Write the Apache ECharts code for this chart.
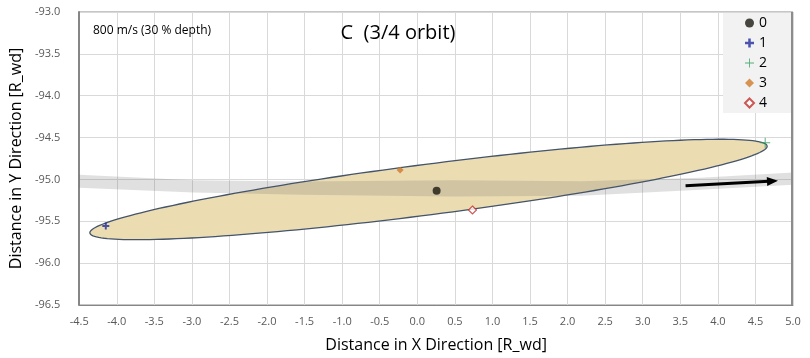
<!DOCTYPE html>
<html>
<head>
<meta charset="utf-8">
<script src="https://cdn.jsdelivr.net/npm/echarts@6/dist/echarts.min.js"></script>
<style>html,body{margin:0;padding:0;background:#fff}#c{width:810px;height:358px}</style>
</head>
<body>
<div id="c"></div>
<script>
// ---- data ----
const seriesNames = ['0', '1', '2', '3', '4'];
const pointX = [0.257, -4.146, 4.63, -0.229, 0.734];
const pointY = [-95.135, -95.556, -94.561, -94.887, -95.365];

// ellipse: centre and two conjugate semi-axis vectors (data units)
const ellipseCenter = [0.149, -95.120];
const ellipseMajor = [4.507, 0.5197];
const ellipseMinor = [0.0425, -0.2998];

// grey band (x, upper y, lower y)
const bandX = [-4.5, -2.98, -1.52, 0.46, 2.18, 3.77, 5.0];
const bandUpper = [-94.945, -95.011, -95.025, -95.011, -95.023, -94.981, -94.918];
const bandLower = [-95.100, -95.156, -95.184, -95.204, -95.196, -95.124, -95.065];

// arrow
const arrowStart = [3.57, -95.076];
const arrowEnd = [4.80, -95.017];

const xTicks = { min: -4.5, max: 5.0, step: 0.5 };
const yTicks = { min: -96.5, max: -93.0, step: 0.5 };

const chartTitle = 'C  (3/4 orbit)';
const chartNote = '800 m/s (30 % depth)';
const xName = 'Distance in X Direction [R_wd]';
const yName = 'Distance in Y Direction [R_wd]';

// ---- styles ----
const plusThick = 'path://M3.6,0H6.4V3.6H10V6.4H6.4V10H3.6V6.4H0V3.6H3.6Z';
const plusThin = 'path://M4.5,0H5.5V4.5H10V5.5H5.5V10H4.5V5.5H0V4.5H4.5Z';
const pointStyles = [
  { symbol: 'circle', size: 8, itemStyle: { color: '#1c1a10' } },
  { symbol: plusThick, size: 7, itemStyle: { color: '#1f2a9c' } },
  { symbol: plusThin, size: 10, itemStyle: { color: '#2e9e5b' } },
  { symbol: 'diamond', size: 7, itemStyle: { color: '#d07a2c' } },
  { symbol: 'diamond', size: 8, itemStyle: { color: '#ffffff', borderColor: '#c0302a', borderWidth: 1.2 } }
];

const tickFont = "'Liberation Sans Narrow', 'Open Sans', sans-serif";
const textFont = "'Open Sans', 'Noto Sans', sans-serif";

function ellipsePoints(api) {
  const pts = [];
  const n = 200;
  for (let i = 0; i <= n; i++) {
    const t = i / n * 2 * Math.PI;
    const c = Math.cos(t), s = Math.sin(t);
    pts.push(api.coord([
      ellipseCenter[0] + ellipseMajor[0] * c + ellipseMinor[0] * s,
      ellipseCenter[1] + ellipseMajor[1] * c + ellipseMinor[1] * s
    ]));
  }
  return pts;
}

const series = [];
// ellipse fill
series.push({
  type: 'custom', name: 'ellipseFill', z: 1, silent: true,
  data: [ellipseCenter],
  renderItem: function (params, api) {
    return { type: 'polygon', shape: { points: ellipsePoints(api) },
      style: { fill: '#ebdcb2', stroke: 'none' } };
  }
});
// band
series.push({
  type: 'custom', name: 'band', z: 2, silent: true, clip: true,
  data: [[bandX[0], bandUpper[0]]],
  renderItem: function (params, api) {
    const pts = [];
    for (let i = 0; i < bandX.length; i++) pts.push(api.coord([bandX[i], bandUpper[i]]));
    for (let i = bandX.length - 1; i >= 0; i--) pts.push(api.coord([bandX[i], bandLower[i]]));
    return { type: 'polygon', shape: { points: pts },
      style: { fill: 'rgba(100,100,100,0.2)', stroke: 'none' } };
  }
});
// ellipse outline
series.push({
  type: 'custom', name: 'ellipseLine', z: 3, silent: true,
  data: [ellipseCenter],
  renderItem: function (params, api) {
    return { type: 'polyline', shape: { points: ellipsePoints(api) },
      style: { fill: 'none', stroke: '#44546a', lineWidth: 1.3 } };
  }
});
// arrow
series.push({
  type: 'custom', name: 'arrow', z: 4, silent: true,
  data: [[arrowStart[0], arrowStart[1], arrowEnd[0], arrowEnd[1]]],
  renderItem: function (params, api) {
    const p0 = api.coord([api.value(0), api.value(1)]);
    const p1 = api.coord([api.value(2), api.value(3)]);
    const dx = p1[0] - p0[0], dy = p1[1] - p0[1];
    const L = Math.sqrt(dx * dx + dy * dy);
    const ux = dx / L, uy = dy / L, nx = -uy, ny = ux;
    const hl = 11, hw = 4.5;
    const base = [p1[0] - ux * hl, p1[1] - uy * hl];
    return { type: 'group', children: [
      { type: 'line', shape: { x1: p0[0], y1: p0[1], x2: base[0] + ux * 2, y2: base[1] + uy * 2 },
        style: { stroke: '#000', lineWidth: 3 } },
      { type: 'polygon', shape: { points: [p1, [base[0] + nx * hw, base[1] + ny * hw], [base[0] - nx * hw, base[1] - ny * hw]] },
        style: { fill: '#000' } }
    ] };
  }
});
// points
seriesNames.forEach(function (nm, i) {
  series.push({
    type: 'scatter', name: nm, z: 5,
    symbol: pointStyles[i].symbol, symbolSize: pointStyles[i].size,
    itemStyle: pointStyles[i].itemStyle,
    data: [[pointX[i], pointY[i]]]
  });
});

const chart = echarts.init(document.getElementById('c'));
chart.setOption({
  animation: false,
  backgroundColor: '#ffffff',
  grid: { left: 76, right: 17, top: 12, bottom: 53, show: true, borderColor: '#8c8c8c', borderWidth: 1 },
  xAxis: {
    type: 'value', min: xTicks.min, max: xTicks.max, interval: xTicks.step,
    name: xName, nameLocation: 'middle', nameGap: 32,
    nameTextStyle: { fontFamily: textFont, fontSize: 16, color: '#000' },
    axisLine: { show: true, onZero: false, lineStyle: { color: '#868686', width: 1 } },
    axisTick: { show: false },
    axisLabel: { formatter: function (v) { return v.toFixed(1); }, color: '#595959', fontSize: 11, fontFamily: tickFont, margin: 11 },
    splitLine: { show: true, lineStyle: { color: '#d9d9d9', width: 1 } }
  },
  yAxis: {
    type: 'value', min: yTicks.min, max: yTicks.max, interval: yTicks.step,
    name: yName, nameLocation: 'middle', nameGap: 52,
    nameTextStyle: { fontFamily: textFont, fontSize: 16, color: '#000' },
    axisLine: { show: true, onZero: false, lineStyle: { color: '#868686', width: 2 } },
    axisTick: { show: false },
    axisLabel: { formatter: function (v) { return v.toFixed(1); }, color: '#595959', fontSize: 11, fontFamily: tickFont, margin: 19 },
    splitLine: { show: true, lineStyle: { color: '#d9d9d9', width: 1 } }
  },
  legend: {
    data: seriesNames, orient: 'vertical', left: 723, top: 13,
    backgroundColor: '#f2f2f2', padding: [3, 24, 3, 21],
    itemWidth: 9, itemHeight: 9, itemGap: 6,
    textStyle: { fontFamily: textFont, fontSize: 14, lineHeight: 14, color: '#000' }
  },
  graphic: [
    { type: 'text', left: 93, top: 25, z: 10,
      style: { text: chartNote, font: '12px ' + textFont, fill: '#000' } },
    { type: 'text', x: 398, y: 33, z: 10,
      style: { text: chartTitle, font: '20px ' + textFont, fill: '#000', textAlign: 'center', textVerticalAlign: 'middle' } },
    { type: 'rect', shape: { x: 791, y: 12, width: 2, height: 293 }, z: 10,
      style: { fill: '#8c8c8c' } }
  ],
  series: series
});
</script>
</body>
</html>
